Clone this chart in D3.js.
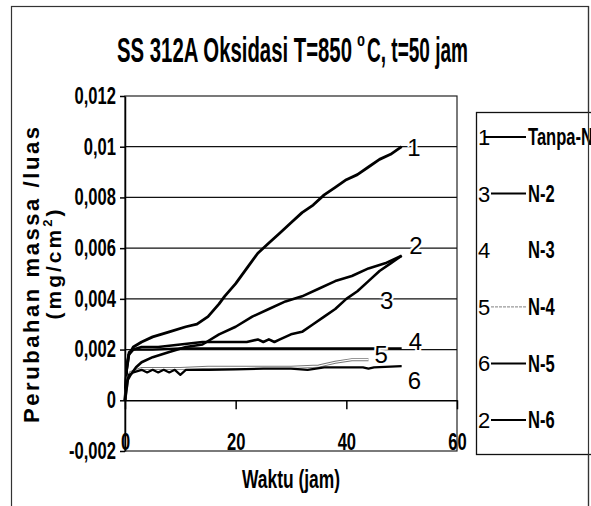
<!DOCTYPE html>
<html>
<head>
<meta charset="utf-8">
<script src="https://cdn.jsdelivr.net/npm/d3@7/dist/d3.min.js"></script>
<style>
body { margin: 0; background: #fff; }
svg text { font-family: "Liberation Sans", Arial, sans-serif; fill: #000; }
</style>
</head>
<body>
<div id="chart"></div>
<script>
//#region data  [waktu (jam), perubahan massa/luas (mg/cm2)]
const tanpaN = [[0, 0], [0.3, 0.0012], [0.7, 0.0018], [1.5, 0.0021], [3, 0.0023], [5, 0.0025], [8, 0.0027], [11, 0.0029],
    [13, 0.003], [15, 0.0033], [17, 0.0038], [18, 0.0041], [20, 0.0046], [22, 0.0052], [24, 0.0058], [26, 0.0062],
    [28, 0.0066], [30, 0.007], [32, 0.0074], [34, 0.0077], [36, 0.0081], [38, 0.0084], [40, 0.0087], [42, 0.0089],
    [44, 0.0092], [46, 0.0095], [48, 0.0097], [50, 0.01]]
const n2 = [[0, 0], [0.3, 0.0012], [0.7, 0.0018], [1.5, 0.002], [3, 0.0021], [6, 0.0021], [10, 0.0022], [14, 0.0023],
    [18, 0.0023], [22, 0.0023], [24, 0.0024], [25, 0.0023], [26, 0.0024], [27, 0.0023], [28, 0.0024], [30, 0.0026],
    [32, 0.0027], [34, 0.003], [36, 0.0033], [38, 0.0036], [40, 0.004], [42, 0.0043], [44, 0.0047], [46, 0.0051],
    [48, 0.0054], [50, 0.0057]]
const n3 = [[0, 0], [0.3, 0.0014], [0.7, 0.0019], [1.5, 0.002], [5, 0.002], [10, 0.00205], [20, 0.00205], [30, 0.00205],
    [40, 0.00205], [50, 0.00205]]
const n4 = [[0, 0], [0.5, 0.0009], [1, 0.0011], [3, 0.00125], [6, 0.00125], [10, 0.00125], [15, 0.0013], [20, 0.0013],
    [25, 0.0013], [30, 0.0013], [35, 0.00135], [38, 0.0015], [41, 0.0016], [44, 0.0016]]
const n5 = [[0, 0], [0.3, 0.0007], [0.7, 0.001], [1.5, 0.0011], [3, 0.0012], [4, 0.0011], [5, 0.0012], [6, 0.0011],
    [7, 0.0012], [8, 0.0011], [9, 0.0012], [10, 0.001], [11, 0.0012], [15, 0.0012], [20, 0.00122], [25, 0.00125],
    [30, 0.00125], [33, 0.0012], [36, 0.0013], [40, 0.0013], [43, 0.0013], [44, 0.00125], [45, 0.0013], [50, 0.00135]]
const n6 = [[0, 0], [0.5, 0.0008], [1, 0.001], [2, 0.0013], [3, 0.0015], [5, 0.0017], [8, 0.0019], [11, 0.0021],
    [14, 0.0022], [17, 0.0026], [20, 0.0029], [23, 0.0033], [26, 0.0036], [29, 0.0039], [32, 0.0041], [35, 0.0044],
    [38, 0.0047], [41, 0.0049], [44, 0.0052], [47, 0.0054], [50, 0.0057]]

const seriesNames = ['Tanpa-N', 'N-2', 'N-3', 'N-4', 'N-5', 'N-6']
const curveNumbers = ['1', '3', '4', '5', '6', '2']
const yTicks = [-0.002, 0, 0.002, 0.004, 0.006, 0.008, 0.01, 0.012]
const yTickLabels = ['-0,002', '0', '0,002', '0,004', '0,006', '0,008', '0,01', '0,012']
const xTicks = [0, 20, 40, 60]
// where the curve numbers are written, in data units
const curveLabelPos = [[52.2, 0.00995], [47.3, 0.00395], [52.5, 0.0023], [46.3, 0.0018], [52.3, 0.00078], [52.6, 0.0061]]
//#endregion

let w = 591,
    h = 506

let svg = d3.select('#chart')
    .append('svg')
    .attr('width', w)
    .attr('height', h)

let x = d3.scaleLinear().domain([0, 60]).range([125, 457])
let y = d3.scaleLinear().domain([-0.002, 0.012]).range([451, 96])

// squeeze a text to look like the narrow scanned font
let squeeze = (sel, k) => sel.each(function () {
    let len = this.getComputedTextLength()
    d3.select(this).attr('textLength', len * k).attr('lengthAdjust', 'spacingAndGlyphs')
})
let fit = (sel, len) => sel.attr('textLength', len).attr('lengthAdjust', 'spacingAndGlyphs')

//#region frame + title
svg.append('rect')
    .attr('x', 11.5).attr('y', 6.5)
    .attr('width', 577).attr('height', 520)
    .attr('fill', 'none').attr('stroke', '#333').attr('stroke-width', 1.2)

svg.append('text').text('SS 312A Oksidasi T=850')
    .attr('x', 117).attr('y', 62)
    .attr('font-size', 35).attr('font-weight', 'bold')
    .call(fit, 235)
svg.append('text').text('0')
    .attr('x', 357).attr('y', 46)
    .attr('font-size', 15).attr('font-weight', 'bold')
    .call(fit, 8)
svg.append('text').text('C, t=50 jam')
    .attr('x', 367).attr('y', 62)
    .attr('font-size', 35).attr('font-weight', 'bold')
    .call(fit, 101)
//#endregion

//#region plot area
let plot = svg.append('g')

plot.append('rect')
    .attr('x', x(0)).attr('y', y(0.012))
    .attr('width', x(60) - x(0)).attr('height', y(-0.002) - y(0.012))
    .attr('fill', 'none').attr('stroke', '#222').attr('stroke-width', 1.2)

plot.selectAll('.grid')
    .data([0.002, 0.004, 0.006, 0.008, 0.01])
    .enter()
    .append('line')
    .attr('class', 'grid')
    .attr('x1', x(0)).attr('x2', x(60))
    .attr('y1', d => y(d)).attr('y2', d => y(d))
    .attr('stroke', '#111').attr('stroke-width', 1.3)

let yAxis = d3.axisLeft(y)
    .tickValues(yTicks)
    .tickFormat((d, i) => yTickLabels[i])
    .tickSize(5)
    .tickSizeOuter(0)
    .tickPadding(4)

svg.append('g')
    .attr('transform', `translate(${x(0)},0)`)
    .call(yAxis)
    .call(g => g.selectAll('path, line').attr('stroke', '#000').attr('stroke-width', 1.5))
    .call(g => g.selectAll('text')
        .attr('font-family', '"Liberation Sans", Arial, sans-serif')
        .attr('font-size', 23)
        .attr('font-weight', 'bold')
        .attr('fill', '#000')
        .call(squeeze, 0.72))

let xAxis = d3.axisBottom(x)
    .tickValues(xTicks)
    .tickSize(9)
    .tickSizeOuter(0)

svg.append('g')
    .attr('transform', `translate(0,${y(0)})`)
    .call(xAxis)
    .call(g => g.selectAll('path, line').attr('stroke', '#000').attr('stroke-width', 1.5))
    .call(g => g.selectAll('text')
        .attr('font-family', '"Liberation Sans", Arial, sans-serif')
        .attr('font-size', 23)
        .attr('font-weight', 'bold')
        .attr('fill', '#000')
        .attr('dy', 0)
        .attr('y', y(-0.002) - y(0) - 1)
        .call(squeeze, 0.72))

svg.append('text').text('Waktu (jam)')
    .attr('x', 291).attr('y', 488)
    .attr('text-anchor', 'middle')
    .attr('font-size', 26).attr('font-weight', 'bold')
    .call(fit, 98)

svg.append('text').text('Perubahan massa /luas')
    .attr('transform', 'translate(39,275) rotate(-90)')
    .attr('text-anchor', 'middle')
    .attr('font-size', 22).attr('font-weight', 'bold')
    .attr('textLength', 296).attr('lengthAdjust', 'spacing')

let unit = svg.append('text')
    .attr('transform', 'translate(61,263) rotate(-90)')
    .attr('text-anchor', 'middle')
    .attr('font-size', 21).attr('font-weight', 'bold')
    .attr('letter-spacing', 3)
unit.append('tspan').text('(mg/cm')
unit.append('tspan').text('2').attr('font-size', 13).attr('dy', -9)
unit.append('tspan').text(')').attr('dy', 9)
//#endregion

//#region curves
let series = [tanpaN, n2, n3, n4, n5, n6]
let widths = [2.8, 2.6, 2.2, 0, 2.2, 2.6]

let line = d3.line()
    .x(d => x(d[0]))
    .y(d => y(d[1]))

series.forEach((s, i) => {
    if (seriesNames[i] === 'N-4') {
        plot.append('path').attr('d', line(s))
            .attr('fill', 'none').attr('stroke', '#777').attr('stroke-width', 3)
        plot.append('path').attr('d', line(s))
            .attr('fill', 'none').attr('stroke', '#fff').attr('stroke-width', 1.2)
    } else {
        plot.append('path').attr('d', line(s))
            .attr('fill', 'none').attr('stroke', '#000')
            .attr('stroke-width', widths[i])
            .attr('stroke-linejoin', 'round')
    }
})

plot.selectAll('.curve-label')
    .data(curveLabelPos)
    .enter()
    .append('text')
    .attr('class', 'curve-label')
    .text((d, i) => curveNumbers[i])
    .attr('x', d => x(d[0]))
    .attr('y', d => y(d[1]))
    .attr('text-anchor', 'middle')
    .attr('dy', '0.35em')
    .attr('font-family', '"Liberation Serif", "Times New Roman", serif')
    .attr('font-size', 24)
    .attr('stroke', '#fff').attr('stroke-width', 4)
    .attr('paint-order', 'stroke')
//#endregion

//#region legend
svg.append('rect')
    .attr('x', 476.5).attr('y', 112.5)
    .attr('width', 140).attr('height', 342)
    .attr('fill', '#fff').attr('stroke', '#111').attr('stroke-width', 1.3)

let legendY = d3.scalePoint().domain(seriesNames).range([137, 420])

let legend = svg.selectAll('.legend')
    .data(seriesNames)
    .enter()
    .append('g')
    .attr('class', 'legend')
    .attr('transform', d => `translate(0,${legendY(d)})`)

legend.append('text')
    .text((d, i) => curveNumbers[i])
    .attr('x', 478)
    .attr('dy', '0.36em')
    .attr('font-family', '"Liberation Serif", "Times New Roman", serif')
    .attr('font-size', 22)

legend.append('line')
    .attr('x1', (d, i) => curveNumbers[i] === '1' ? 484 : 491)
    .attr('x2', 526)
    .attr('stroke', (d, i) => seriesNames[i] === 'N-4' ? '#999' : seriesNames[i] === 'N-3' ? 'none' : '#000')
    .attr('stroke-width', (d, i) => seriesNames[i] === 'N-4' ? 1.2 : 2)
    .attr('stroke-dasharray', (d, i) => seriesNames[i] === 'N-4' ? '3,1' : null)

legend.append('text')
    .text(d => d)
    .attr('x', 528)
    .attr('dy', '0.36em')
    .attr('font-size', 23)
    .attr('font-weight', 'bold')
    .call(squeeze, 0.72)

// outer frame right edge sits above the legend box
svg.append('line')
    .attr('x1', 588.5).attr('x2', 588.5)
    .attr('y1', 6).attr('y2', h)
    .attr('stroke', '#333').attr('stroke-width', 1.2)
//#endregion
</script>
</body>
</html>
